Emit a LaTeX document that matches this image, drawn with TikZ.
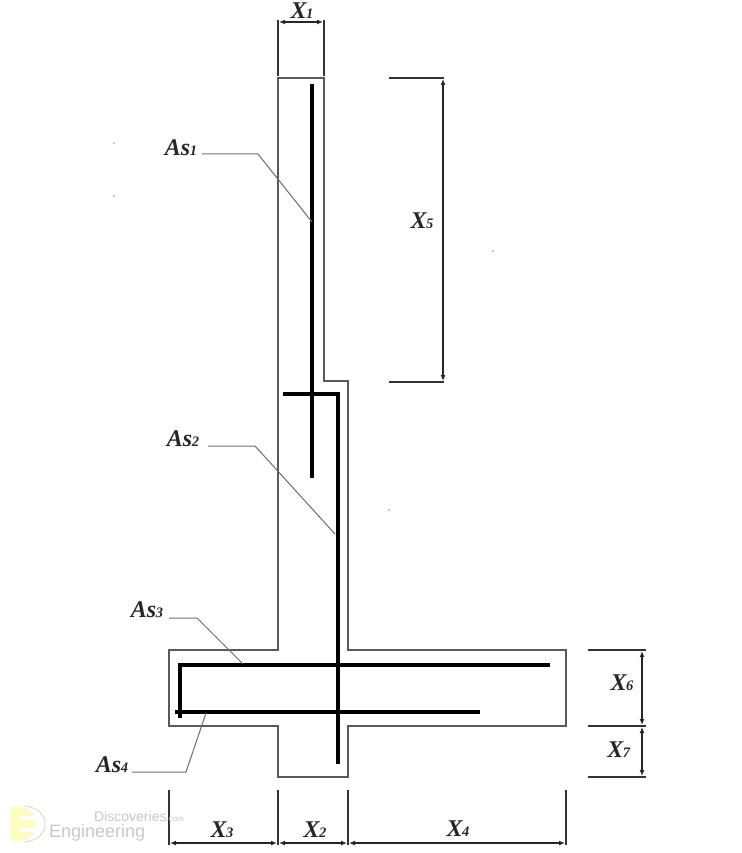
\documentclass[tikz,border=0pt]{standalone}
\usepackage{fontspec}
\setmainfont{Liberation Serif}
\newfontfamily\wmfont{Liberation Sans}
\usetikzlibrary{arrows.meta}
\newcommand{\lblb}[2]{\textbf{\textit{#1\kern-0.5pt{\fontsize{14.5}{14.5}\selectfont #2}}}}
\tikzset{
  outline/.style={draw=black!65,line width=2.2pt,line join=miter},
  rebar/.style={draw=black,line width=4.4pt,line join=miter},
  leader/.style={draw=black!58,line width=1pt},
  ext/.style={draw=black!80,line width=2.4pt},
  dimline/.style={draw=black!85,line width=2.4pt,{Latex[length=6pt,width=5pt]}-{Latex[length=6pt,width=5pt]}},
  lab/.style={font=\fontsize{24}{24}\selectfont,inner sep=0pt,text=black!85},
  wm/.style={inner sep=0pt,text=black!22}
}
\begin{document}
\begin{tikzpicture}[x=1pt,y=-1pt]
\useasboundingbox (0,0) rectangle (741,853);
% concrete outline
\draw[outline] (278,78) -- (324,78) -- (324,381) -- (348,381) -- (348,650) -- (566,650) -- (566,726) -- (348,726) -- (348,777) -- (278,777) -- (278,726) -- (169,726) -- (169,650) -- (278,650) -- cycle;
% reinforcement
\draw[rebar] (312,84) -- (312,478);
\draw[rebar] (283,394) -- (338,394) -- (338,764);
\draw[rebar] (550,665) -- (180,665) -- (180,718);
\draw[rebar] (175,712) -- (480,712);
% labels and leaders
\node[lab] (as1) at (181,148) {\lblb{As}{1}};
\node[lab] (as2) at (183,439) {\lblb{As}{2}};
\node[lab] (as3) at (147,610) {\lblb{As}{3}};
\node[lab] (as4) at (112,765) {\lblb{As}{4}};
\coordinate (t1) at (312,222);
\coordinate (t2) at (335,534);
\coordinate (t3) at (243,664);
\coordinate (t4) at (206,713);
\draw[leader] (202,154) -- (258,154) -- (t1);
\draw[leader] (208,446) -- (255,446) -- (t2);
\draw[leader] (169,618) -- (197,618) -- (t3);
\draw[leader] (132,772) -- (186,772) -- (t4);
% X1
\draw[ext] (278,20) -- (278,76);
\draw[ext] (324,20) -- (324,76);
\draw[dimline] (279,22) -- (323,22);
\node[lab] (x1) at (302,11) {\lblb{X}{1}};
% X5
\draw[ext] (389,78) -- (444,78);
\draw[ext] (389,382) -- (444,382);
\draw[dimline] (443,79) -- (443,381);
\node[lab] (x5) at (422,221) {\lblb{X}{5}};
% X6, X7
\draw[ext] (588,650) -- (646,650);
\draw[ext] (588,726) -- (646,726);
\draw[ext] (588,777) -- (646,777);
\draw[dimline] (642,651) -- (642,725);
\draw[dimline] (642,727) -- (642,776);
\node[lab] (x6) at (622,683) {\lblb{X}{6}};
\node[lab] (x7) at (619,750) {\lblb{X}{7}};
% bottom dimensions
\draw[ext] (169,790) -- (169,845);
\draw[ext] (278,790) -- (278,845);
\draw[ext] (348,790) -- (348,845);
\draw[ext] (566,790) -- (566,845);
\draw[dimline] (170,843) -- (277,843);
\draw[dimline] (279,843) -- (347,843);
\draw[dimline] (349,843) -- (565,843);
\node[lab] (x3) at (222,830) {\lblb{X}{3}};
\node[lab] (x2) at (315,830) {\lblb{X}{2}};
\node[lab] (x4) at (458,829) {\lblb{X}{4}};
% stray specks
\fill[black!45] (114,143) circle (0.8);
\fill[black!45] (114,196) circle (0.8);
\fill[black!45] (493,251) circle (0.8);
\fill[black!45] (389,510) circle (0.8);
% watermark
\fill[yellow!25] (11,807) -- (22,807) .. controls (31,808) and (36,816) .. (36,824) .. controls (36,832) and (31,840) .. (22,841) -- (11,841) -- cycle;
\fill[white] (20,816) rectangle (38,820);
\fill[white] (20,828) rectangle (38,832);
\draw[black!14,line width=1pt] (24,806) .. controls (52,808) and (52,840) .. (24,842);
\node[wm,anchor=west,font=\wmfont\fontsize{14}{14}\selectfont] (wm1) at (94,816.5) {Discoveries\fontsize{8}{8}\selectfont.com};
\node[wm,anchor=west,font=\wmfont\fontsize{18}{18}\selectfont] (wm2) at (49,833) {Engineering};
\end{tikzpicture}
\end{document}
